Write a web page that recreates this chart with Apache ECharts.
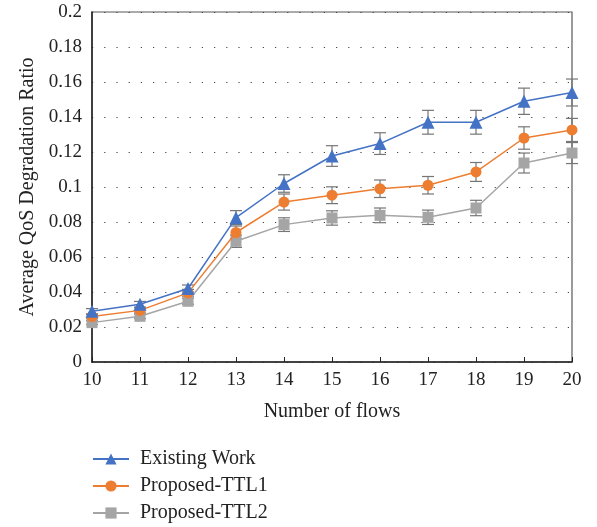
<!DOCTYPE html>
<html>
<head>
<meta charset="utf-8">
<script src="https://cdn.jsdelivr.net/npm/echarts@6/dist/echarts.min.js"></script>
<style>
  html, body { margin: 0; padding: 0; background: #fff; }
  #chart { width: 597px; height: 527px; }
</style>
</head>
<body>
<div id="chart"></div>
<script>
// data
const flows = ['10', '11', '12', '13', '14', '15', '16', '17', '18', '19', '20'];
const existingWork = [0.029, 0.033, 0.042, 0.0825, 0.102, 0.1177, 0.1248, 0.137, 0.137, 0.149, 0.154];
const proposedTTL1 = [0.026, 0.0295, 0.0395, 0.074, 0.0914, 0.0953, 0.099, 0.101, 0.1086, 0.128, 0.1326];
const proposedTTL2 = [0.0225, 0.0261, 0.0347, 0.069, 0.0785, 0.0823, 0.0838, 0.0827, 0.088, 0.1137, 0.1194];
const existingErr = [0.0015, 0.0016, 0.002, 0.004, 0.005, 0.0059, 0.0062, 0.0068, 0.0068, 0.0075, 0.0077];
const ttl1Err = [0.0013, 0.0015, 0.002, 0.0037, 0.0046, 0.0048, 0.005, 0.005, 0.0054, 0.0064, 0.0066];
const ttl2Err = [0.0011, 0.0013, 0.0017, 0.0035, 0.0039, 0.0041, 0.0042, 0.0041, 0.0044, 0.0057, 0.006];

const serif = '"Liberation Serif", "DejaVu Serif", serif';

// [index, low, high] rows for the error bars
const errRows = (vals, errs) => vals.map((v, i) => [i, v - errs[i], v + errs[i]]);

const renderErr = (params, api) => {
  const lo = api.coord([api.value(0), api.value(1)]);
  const hi = api.coord([api.value(0), api.value(2)]);
  const w = 6;
  const style = { stroke: '#767676', lineWidth: 1.2 };
  return {
    type: 'group',
    children: [
      { type: 'line', shape: { x1: lo[0], y1: lo[1], x2: hi[0], y2: hi[1] }, style },
      { type: 'line', shape: { x1: lo[0] - w, y1: lo[1], x2: lo[0] + w, y2: lo[1] }, style },
      { type: 'line', shape: { x1: hi[0] - w, y1: hi[1], x2: hi[0] + w, y2: hi[1] }, style }
    ]
  };
};

const errSeries = (rows) => ({
  type: 'custom',
  renderItem: renderErr,
  data: rows,
  encode: { x: 0, y: [1, 2] },
  z: 1,
  silent: true
});

const chart = echarts.init(document.getElementById('chart'));

const option = {
  animation: false,
  grid: {
    left: 92, right: 25, top: 12, bottom: 165,
    show: true, borderColor: '#595959', borderWidth: 1.2
  },
  legend: {
    orient: 'vertical',
    left: 92,
    top: 449,
    padding: 0,
    itemWidth: 36,
    itemHeight: 14,
    itemGap: 7,
    textStyle: { fontFamily: serif, fontSize: 20, color: '#222', padding: [0, 0, 0, 6] },
    data: ['Existing Work', 'Proposed-TTL1', 'Proposed-TTL2']
  },
  xAxis: {
    type: 'category',
    data: flows,
    boundaryGap: false,
    name: 'Number of flows',
    nameLocation: 'middle',
    nameGap: 40,
    nameTextStyle: { fontFamily: serif, fontSize: 20, color: '#222' },
    axisLine: { lineStyle: { color: '#222', width: 1.5 } },
    axisTick: { show: true, inside: true, length: 5, lineStyle: { color: '#222' } },
    axisLabel: { fontFamily: serif, fontSize: 19, color: '#222', margin: 9 },
    splitLine: { show: false }
  },
  yAxis: {
    type: 'value',
    min: 0,
    max: 0.2,
    interval: 0.02,
    name: 'Average QoS Degradation Ratio',
    nameLocation: 'middle',
    nameGap: 54,
    nameTextStyle: { fontFamily: serif, fontSize: 20, color: '#222' },
    axisLine: { show: true, lineStyle: { color: '#222', width: 1.5 } },
    axisTick: { show: false },
    axisLabel: { fontFamily: serif, fontSize: 19, color: '#222', margin: 10 },
    splitLine: { show: true, lineStyle: { color: '#444', width: 1.2, type: [1.2, 11] } }
  },
  series: [
    errSeries(errRows(existingWork, existingErr)),
    errSeries(errRows(proposedTTL1, ttl1Err)),
    errSeries(errRows(proposedTTL2, ttl2Err)),
    {
      name: 'Existing Work',
      type: 'line',
      data: existingWork,
      symbol: 'triangle',
      symbolSize: 13,
      z: 5,
      itemStyle: { color: '#4472C4' },
      lineStyle: { color: '#4472C4', width: 1.5 }
    },
    {
      name: 'Proposed-TTL1',
      type: 'line',
      data: proposedTTL1,
      symbol: 'circle',
      symbolSize: 11,
      z: 4,
      itemStyle: { color: '#ED7D31' },
      lineStyle: { color: '#ED7D31', width: 1.5 }
    },
    {
      name: 'Proposed-TTL2',
      type: 'line',
      data: proposedTTL2,
      symbol: 'rect',
      symbolSize: 11,
      z: 3,
      itemStyle: { color: '#A5A5A5' },
      lineStyle: { color: '#A5A5A5', width: 1.5 }
    }
  ]
};

chart.setOption(option);
</script>
</body>
</html>
